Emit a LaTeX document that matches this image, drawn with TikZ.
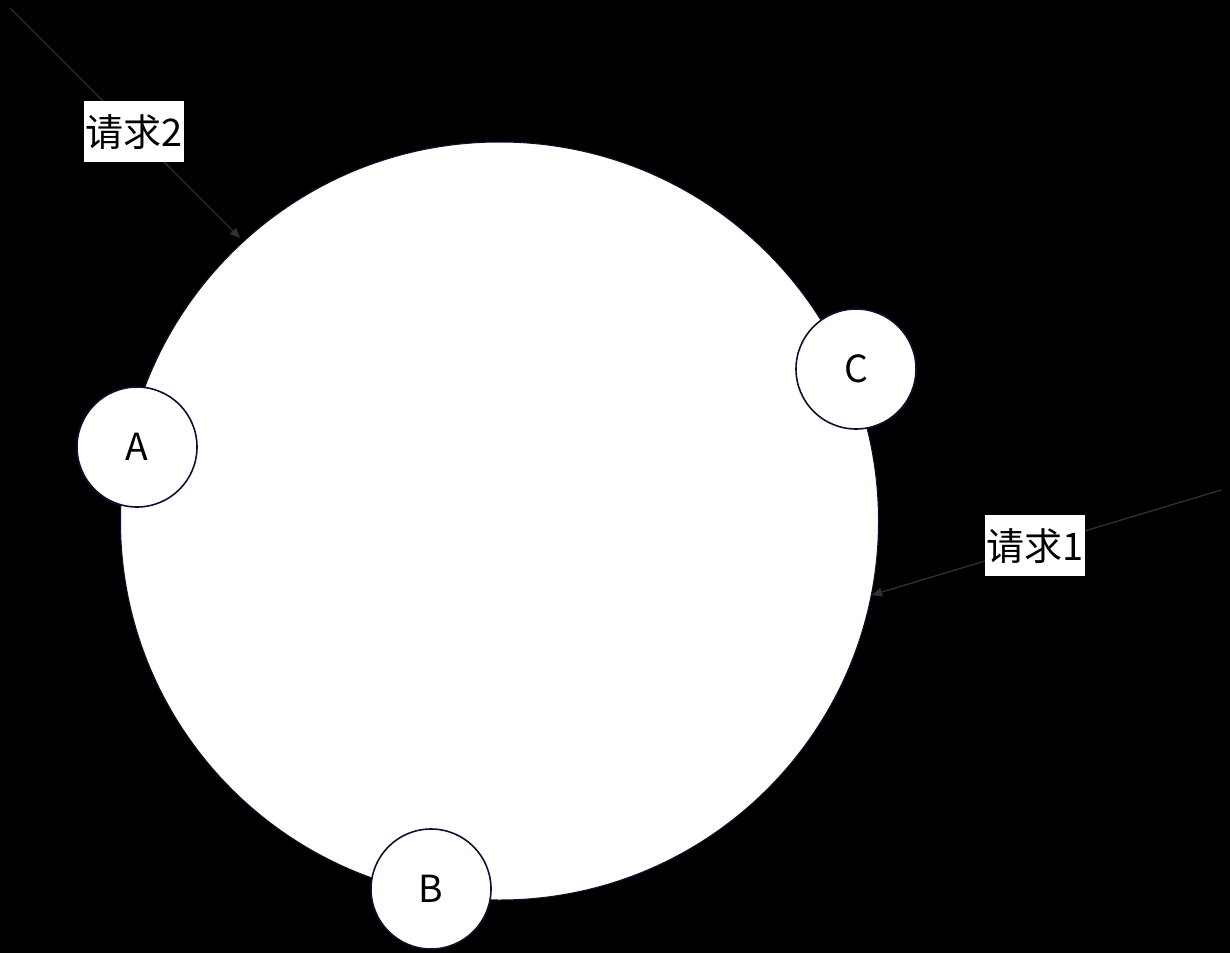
\documentclass[tikz,border=0pt]{standalone}
\usepackage{fontspec}
\setmainfont{Noto Sans CJK SC}
\usetikzlibrary{arrows.meta}
\definecolor{ringline}{HTML}{101030}
\definecolor{arrowline}{HTML}{303030}
\tikzset{
  ring/.style={draw=ringline, line width=0.75pt, fill=white},
  server/.style={circle, draw=ringline, line width=1.2pt, fill=white, minimum size=90pt, inner sep=0pt, font=\fontsize{28}{33}\selectfont},
  request/.style={draw=arrowline, line width=1pt, -{Triangle[length=7.5pt, width=6.5pt]}},
  reqlabel/.style={fill=white, inner xsep=1pt, inner ysep=0pt, minimum height=45.75pt, font=\fontsize{28.5}{33}\selectfont}
}
\begin{document}
\begin{tikzpicture}[x=0.75pt, y=-0.75pt]
\useasboundingbox (0,0) rectangle (1230,952);
\fill[black] (-4,-4) rectangle (1234,956);
\node[ring, circle, minimum size=568.5pt, inner sep=0pt] (ring) at (499.5,521) {};
\coordinate (s2) at (10,8);
\coordinate (t2) at (240,238);
\coordinate (s1) at (1221,490);
\coordinate (t1) at (872,595);
\draw[request] (s2) -- (t2) node[reqlabel, pos=0.539] (l2) {请求2};
\draw[request] (s1) -- (t1) node[reqlabel, pos=0.533] (l1) {请求1};
\node[server] (A) at (137,447) {A};
\node[server] (C) at (856,369) {C};
\node[server] (B) at (431,889) {B};
\end{tikzpicture}
\end{document}
